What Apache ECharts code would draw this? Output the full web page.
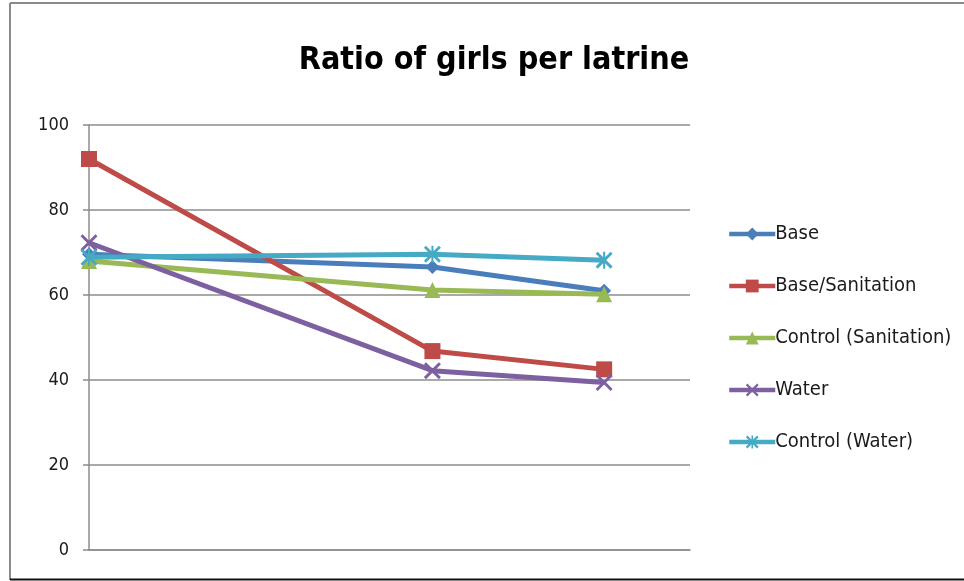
<!DOCTYPE html>
<html>
<head>
<meta charset="utf-8">
<script src="https://cdn.jsdelivr.net/npm/echarts@6/dist/echarts.min.js"></script>
<style>
html,body{margin:0;padding:0;background:#fff;}
#chart{width:964px;height:581px;}
</style>
</head>
<body>
<div id="chart"></div>
<script>
// Data
const periods = [0, 2, 3];
const seriesNames = ['Base', 'Base/Sanitation', 'Control (Sanitation)', 'Water', 'Control (Water)'];
const base = [69.6, 66.6, 61.0];
const baseSanitation = [92.0, 46.8, 42.5];
const controlSanitation = [68.0, 61.2, 60.2];
const water = [72.3, 42.2, 39.4];
const controlWater = [68.9, 69.6, 68.2];
const yTicks = [0, 20, 40, 60, 80, 100];

const allValues = [base, baseSanitation, controlSanitation, water, controlWater];
const colors = ['#4A7EBB', '#BE4B48', '#98B954', '#7D60A0', '#46AAC5'];
const xPath = 'path://M0,1.2 L1.2,0 L10,8.8 L8.8,10 Z M8.8,0 L10,1.2 L1.2,10 L0,8.8 Z';
const starPath = 'path://M0,1.2 L1.2,0 L10,8.8 L8.8,10 Z M8.8,0 L10,1.2 L1.2,10 L0,8.8 Z M4.4,0 L5.6,0 L5.6,10 L4.4,10 Z';
const symbols = ['diamond', 'rect', 'triangle', xPath, starPath];
const symbolSizes = [14, 16, 16, 17, 17];
const narrowFont = "'Liberation Sans Narrow', 'DejaVu Sans Condensed', Lato, sans-serif";

const chart = echarts.init(document.getElementById('chart'), null, {renderer: 'canvas'});
const series = seriesNames.map((name, i) => ({
  name: name,
  type: 'line',
  data: periods.map((p, j) => [p, allValues[i][j]]),
  symbol: symbols[i],
  symbolSize: symbolSizes[i],
  showAllSymbol: true,
  lineStyle: {color: colors[i], width: 5},
  itemStyle: {color: colors[i], opacity: 1},
  emphasis: {disabled: true},
  animation: false,
  z: 2 + i
}));

chart.setOption({
  backgroundColor: '#fff',
  animation: false,
  title: {
    text: 'Ratio of girls per latrine',
    left: 489,
    textAlign: 'center',
    top: 40,
    textStyle: {fontFamily: narrowFont, fontWeight: 'bold', fontSize: 32, color: '#000'}
  },
  grid: {left: 89, right: 274, top: 125, bottom: 31, containLabel: false},
  xAxis: {
    type: 'value',
    min: 0,
    max: 3.5,
    axisLine: {show: true, onZero: false, lineStyle: {color: '#8c8c8c', width: 1.5}},
    axisTick: {show: false},
    axisLabel: {show: false},
    splitLine: {show: false}
  },
  yAxis: {
    type: 'value',
    min: yTicks[0],
    max: yTicks[yTicks.length - 1],
    interval: yTicks[1] - yTicks[0],
    axisLine: {show: true, lineStyle: {color: '#8c8c8c', width: 1.5}},
    axisTick: {show: true, length: 6, inside: false, lineStyle: {color: '#8c8c8c', width: 1.5}},
    axisLabel: {margin: 20, fontFamily: narrowFont, fontSize: 18, color: '#1a1a1a'},
    splitLine: {show: true, lineStyle: {color: '#8c8c8c', width: 1.5}}
  },
  legend: {
    orient: 'vertical',
    left: 722,
    top: 219,
    itemWidth: 46,
    itemHeight: 16,
    itemGap: 32,
    data: seriesNames,
    lineStyle: {width: 4.5},
    textStyle: {fontFamily: narrowFont, fontSize: 20, color: '#1a1a1a', lineHeight: 20, padding: [0, 0, 0, -5]}
  },
  graphic: [
    {type: 'line', shape: {x1: 10, y1: 3, x2: 964, y2: 3}, style: {stroke: '#8a8a8a', lineWidth: 2}, silent: true},
    {type: 'line', shape: {x1: 10, y1: 3, x2: 10, y2: 580}, style: {stroke: '#8a8a8a', lineWidth: 2}, silent: true},
    {type: 'line', shape: {x1: 10, y1: 579.5, x2: 964, y2: 579.5}, style: {stroke: '#111', lineWidth: 2}, silent: true}
  ],
  series: series
});
</script>
</body>
</html>
